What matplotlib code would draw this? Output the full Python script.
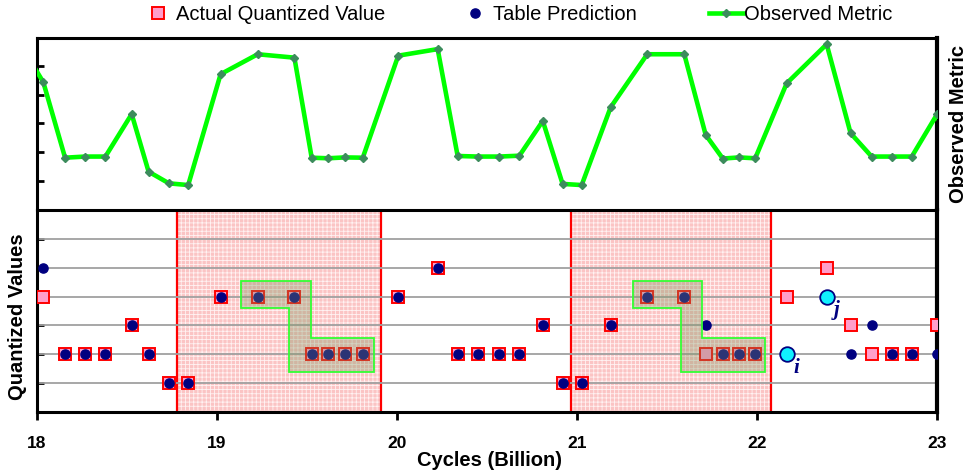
import matplotlib.pyplot as plt
from matplotlib.patches import Rectangle, Polygon
from matplotlib.lines import Line2D

plt.rcParams['font.family'] = ['Liberation Sans', 'DejaVu Sans']
plt.rcParams['hatch.linewidth'] = 0.6

# sample positions (billion cycles)
cycles = [18.035, 18.156, 18.267, 18.38, 18.526, 18.62, 18.733, 18.84,
          19.02, 19.226, 19.43, 19.526, 19.618, 19.71, 19.81,
          20.007, 20.226, 20.337, 20.45, 20.567, 20.68, 20.81, 20.92,
          21.026, 21.187, 21.39, 21.596, 21.715, 21.81, 21.90, 21.99,
          22.165, 22.387, 22.52, 22.637, 22.75, 22.86, 23.0]
actual_level = [4, 2, 2, 2, 3, 2, 1, 1,
                4, 4, 4, 2, 2, 2, 2,
                4, 5, 2, 2, 2, 2, 3, 1,
                1, 3, 4, 4, 2, 2, 2, 2,
                4, 5, 3, 2, 2, 2, 3]
predicted_level = [5, 2, 2, 2, 3, 2, 1, 1,
                   4, 4, 4, 2, 2, 2, 2,
                   4, 5, 2, 2, 2, 2, 3, 1,
                   1, 3, 4, 4, 3, 2, 2, 2,
                   2, 4, 2, 3, 2, 2, 2]
# mispredictions called out by name
callouts = {22.165: 'i', 22.387: 'j'}

# raw metric, with one sample on each side of the window
metric_cycles = [17.925] + cycles + [23.08]
observed_metric = [5.6, 4.45, 1.80, 1.84, 1.84, 3.33, 1.31, 0.90, 0.84,
                   4.73, 5.43, 5.31, 1.80, 1.78, 1.81, 1.80,
                   5.38, 5.61, 1.86, 1.84, 1.84, 1.87, 3.09, 0.88,
                   0.84, 3.57, 5.43, 5.43, 2.60, 1.77, 1.81, 1.78,
                   4.41, 5.78, 2.66, 1.84, 1.84, 1.84, 3.32, 1.8]

# phases served from the table
table_windows = [(18.78, 19.91), (20.965, 22.078)]
# stable stretches: (left, inner, step, right) in cycles
stable_blocks = [(19.131, 19.402, 19.522, 19.871),
                 (21.309, 21.576, 21.696, 22.046)]

W, H = 969, 473
fig = plt.figure(figsize=(W / 100, H / 100), dpi=100)
ax_top = fig.add_axes([37 / W, (H - 209) / H, 900 / W, 171 / H])
ax_bot = fig.add_axes([37 / W, (H - 412) / H, 900 / W, 202 / H])

# --- top: observed metric
ax_top.plot(metric_cycles, observed_metric, color='#00ff00', lw=3.3,
            marker='D', ms=4, mfc='#3c8c5c', mec='#3c8c5c', zorder=3)
ax_top.set_xlim(18, 23)
ax_top.set_ylim(0, 6)
ax_top.set_yticks([1, 2, 3, 4, 5])
ax_top.tick_params(axis='y', direction='in', length=5, width=2,
                   labelleft=False)
ax_top.tick_params(axis='x', bottom=False, labelbottom=False)
ax_top.spines['bottom'].set_visible(False)
for side in ('top', 'left'):
    ax_top.spines[side].set_linewidth(2.2)
ax_top.spines['right'].set_linewidth(3)

# --- bottom: quantized values
ax_bot.set_xlim(18, 23)
ax_bot.set_ylim(0, 7)
for x0, x1 in table_windows:
    ax_bot.add_patch(Rectangle((x0, 0), x1 - x0, 7, facecolor='#fbc4c4',
                               edgecolor='#fff2f2', hatch='++++', lw=0,
                               zorder=1))
    ax_bot.add_patch(Rectangle((x0, 0), x1 - x0, 7, facecolor='none',
                               edgecolor='#ff0000', lw=1.6, zorder=1.5))
for lvl in range(1, 7):
    ax_bot.axhline(lvl, color='#a0a0a0', lw=1.3, zorder=2)

ax_bot.plot(cycles, actual_level, ls='none', marker='s', ms=9.2,
            mfc='#ff9ecb', mec='#ff0000', mew=1.4, zorder=3)
plain = [(c, p) for c, p in zip(cycles, predicted_level) if c not in callouts]
ax_bot.plot([c for c, _ in plain], [p for _, p in plain], ls='none',
            marker='o', ms=6.6, mfc='#000080', mec='#000080', zorder=4)
for c, p in zip(cycles, predicted_level):
    if c in callouts:
        ax_bot.plot(c, p, marker='o', ms=10.5, mfc='#10f0ff', mec='#000080',
                    mew=1.3, zorder=4)
        ax_bot.annotate(callouts[c], (c, p), xytext=(7, -10),
                        textcoords='offset points', ha='center', va='center',
                        fontsize=15, color='#000080', style='italic',
                        fontweight='bold', family='Liberation Serif')

for left, inner, step, right in stable_blocks:
    pts = [(left, 4.55), (step, 4.55), (step, 2.55), (right, 2.55),
           (right, 1.37), (inner, 1.37), (inner, 3.59), (left, 3.59)]
    ax_bot.add_patch(Polygon(pts, closed=True,
                             facecolor=(0.5, 0.6, 0.38, 0.34),
                             edgecolor='#33ff33', lw=1.3, zorder=5))

ax_bot.set_yticks(range(1, 7))
ax_bot.tick_params(axis='y', direction='in', length=5, width=2,
                   labelleft=False)
ax_bot.set_xticks([18, 19, 20, 21, 22, 23])
ax_bot.tick_params(axis='x', direction='out', length=6, width=2, pad=11,
                   labelsize=12.5)
for lab in ax_bot.get_xticklabels():
    lab.set_fontweight('bold')
for side in ('top', 'left', 'bottom'):
    ax_bot.spines[side].set_linewidth(2.2)
ax_bot.spines['right'].set_linewidth(3)

fig.text(489 / W, 1 - 460 / H, 'Cycles (Billion)', ha='center',
         va='center', fontsize=14.5, fontweight='bold')
fig.text(18 / W, 1 - 317 / H, 'Quantized Values', ha='center',
         va='center', rotation=90, fontsize=14.5, fontweight='bold')
fig.text(958 / W, 1 - 124 / H, 'Observed Metric', ha='center',
         va='center', rotation=90, fontsize=14.5, fontweight='bold')

handles = [
    Line2D([], [], ls='none', marker='s', ms=9.2, mfc='#ff9ecb',
           mec='#ff0000', mew=1.4),
    Line2D([], [], ls='none', marker='o', ms=6.6, mfc='#000080',
           mec='#000080'),
    Line2D([], [], color='#00ff00', lw=3.3, marker='D', ms=4,
           mfc='#3c8c5c', mec='#3c8c5c'),
]
fig.legend(handles, ['Actual Quantized Value', 'Table Prediction',
                     'Observed Metric'],
           loc='center', bbox_to_anchor=(0.533, 1 - 15 / H), ncol=3,
           frameon=False, fontsize=14.5, handlelength=1.7,
           handletextpad=0.05, columnspacing=3.6, borderpad=0)

fig.savefig('out.png', dpi=100)
